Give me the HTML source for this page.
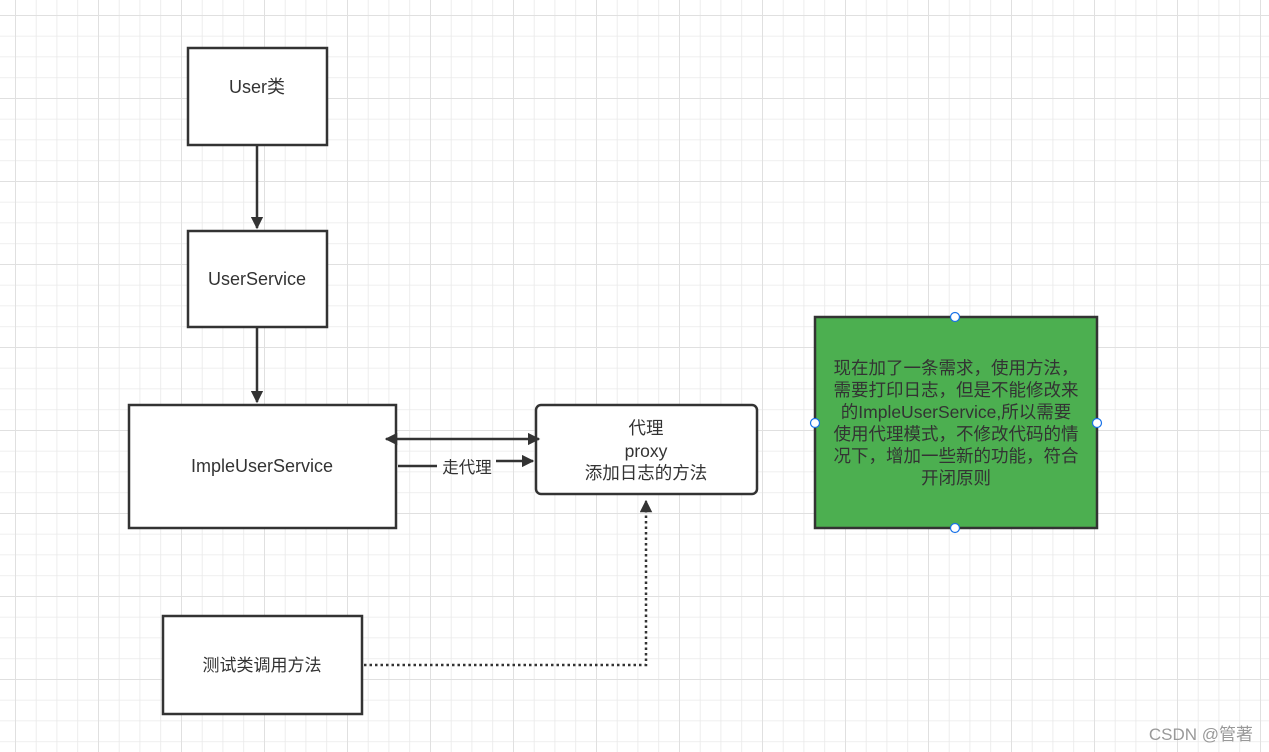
<!DOCTYPE html>
<html><head><meta charset="utf-8"><style>
html,body{margin:0;padding:0;background:#fff}
svg{display:block}
text{font-family:"Liberation Sans","Noto Sans CJK SC",sans-serif;fill:#333}
</style></head><body>
<svg width="1269" height="752" viewBox="0 0 1269 752" xmlns="http://www.w3.org/2000/svg">
<defs>
<pattern id="g" x="15" y="15" width="20.75" height="20.75" patternUnits="userSpaceOnUse">
<path d="M0 0H20.75M0 0V20.75" stroke="#e9e9e9" stroke-width="1.6" fill="none"/>
</pattern>
<pattern id="G" x="15" y="15" width="83" height="83" patternUnits="userSpaceOnUse">
<path d="M0 0H83M0 0V83" stroke="#e0e0e0" stroke-width="2" fill="none"/>
</pattern>
<marker id="a" viewBox="0 0 10 10" refX="9" refY="5" markerWidth="5" markerHeight="5" orient="auto-start-reverse"><path d="M0 0L10 5L0 10z" fill="#333"/></marker>
</defs>
<rect width="1269" height="752" fill="url(#g)"/>
<rect width="1269" height="752" fill="url(#G)"/>
<g stroke="#333" stroke-width="2.5" fill="#fff">
<rect x="188" y="48" width="139" height="97"/>
<rect x="188" y="231" width="139" height="96"/>
<rect x="129" y="405" width="267" height="123"/>
<rect x="536" y="405" width="221" height="89" rx="5"/>
<rect x="163" y="616" width="199" height="98"/>
<rect x="815" y="317" width="282" height="211" fill="#4caf50"/>
</g>
<g stroke="#333" stroke-width="2.5" fill="none">
<path d="M257 146V228" marker-end="url(#a)"/>
<path d="M257 328V402" marker-end="url(#a)"/>
<path d="M386 439H539" marker-start="url(#a)" marker-end="url(#a)"/>
<path d="M398 466H437"/>
<path d="M496 461H533" marker-end="url(#a)"/>
<path d="M364 665H646V501" stroke-dasharray="2.5 3" marker-end="url(#a)"/>
</g>
<g fill="#fff" stroke="#1a73e8" stroke-width="1.2">
<circle cx="955" cy="317" r="4.5"/><circle cx="955" cy="528" r="4.5"/>
<circle cx="815" cy="423" r="4.5"/><circle cx="1097" cy="423" r="4.5"/>
</g>
<g font-size="18" text-anchor="middle">
<text x="257" y="93">User类</text>
<text x="257" y="285">UserService</text>
<text x="262" y="472">ImpleUserService</text>
<text x="262" y="671" font-size="17">测试类调用方法</text>
<text x="646" y="434" font-size="17.5">代理</text>
<text x="646" y="457" font-size="17.5">proxy</text>
<text x="646" y="479" font-size="17.5">添加日志的方法</text>
<text x="467" y="473" font-size="16.5">走代理</text>
</g>
<g font-size="17.5" text-anchor="middle" fill="#222">
<text x="956" y="374">现在加了一条需求，使用方法，</text>
<text x="956" y="396">需要打印日志，但是不能修改来</text>
<text x="956" y="418">的ImpleUserService,所以需要</text>
<text x="956" y="440">使用代理模式，不修改代码的情</text>
<text x="956" y="462">况下，增加一些新的功能，符合</text>
<text x="956" y="484">开闭原则</text>
</g>
<text x="1253" y="740" font-size="17" text-anchor="end" style="fill:#999">CSDN @管著</text>
</svg>
</body></html>
